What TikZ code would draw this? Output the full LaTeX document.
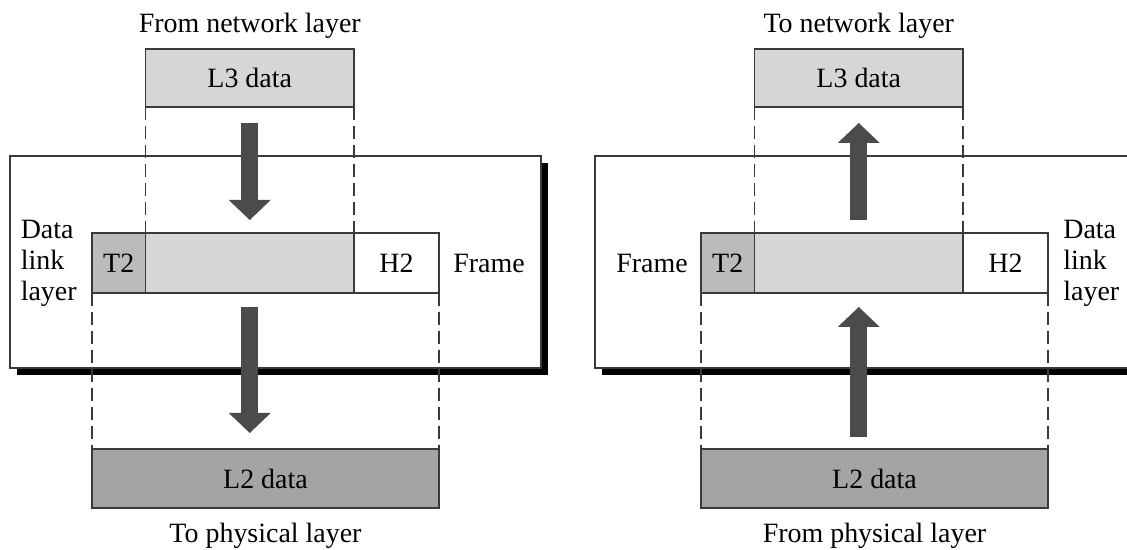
\documentclass[tikz,border=0pt]{standalone}
\usepackage{fontspec}
\setmainfont{Liberation Serif}
\usetikzlibrary{arrows.meta,positioning}

\definecolor{lightgr}{HTML}{D6D6D6}
\definecolor{midgr}{HTML}{BBBBBB}
\definecolor{darkgr}{HTML}{A4A4A4}
\definecolor{arrowgr}{HTML}{4B4B4B}
\definecolor{linegr}{HTML}{3A3A3A}

\begin{document}
\begin{tikzpicture}[
	every node/.style={font=\fontsize{15.9pt}{17.6pt}\selectfont, inner sep=0pt},
	cell/.style={draw=linegr, line width=1pt, minimum height=1.2cm, outer sep=0pt},
	layerbox/.style={draw=linegr, line width=0.8pt, fill=white},
	guide/.style={draw=linegr, line width=1pt, dash pattern=on 0.26cm off 0.12cm},
	bigarrow/.style={draw=arrowgr, line width=0.34cm, -{Triangle[width=0.84cm, length=0.4cm, line width=0pt]}}
]
	\useasboundingbox (0,0) rectangle (22.54,11);
	\clip (0,0) rectangle (22.54,11);

% lado emisor
	\fill (0.34,3.5) rectangle (10.96,7.74);
	\draw[layerbox] (0.2,3.64) rectangle (10.82,7.88);

	\node[cell, fill=midgr, minimum width=1.07cm, anchor=south west] (t2L) at (1.84,5.14) {T2};
	\node[cell, fill=lightgr, minimum width=4.17cm, right=0pt of t2L] (midL) {};
	\node[cell, fill=white, minimum width=1.7cm, right=0pt of midL] (h2L) {H2};

	\node[cell, fill=lightgr, minimum width=4.17cm, minimum height=1.16cm, above=2.52cm of midL] (l3L) {L3 data};
	\node[cell, fill=darkgr, minimum width=6.94cm, minimum height=1.18cm, anchor=north west] (l2L)
		at ([yshift=-3.12cm]t2L.south west) {L2 data};

	\node[above=0.2cm of l3L] (fromnet) {From network layer};
	\node[below=0.3cm of l2L] (tophy) {To physical layer};
	\node[align=left, left=0.3cm of t2L] (dllL) {Data\\link\\layer};
	\node[right=0.28cm of h2L] (frmL) {Frame};

	\draw[guide] (l3L.south west) -- (midL.north west);
	\draw[guide] (l3L.south east) -- (midL.north east);
	\draw[guide] (t2L.south west) -- (l2L.north west);
	\draw[guide] (h2L.south east) -- (l2L.north east);

	\draw[bigarrow] ([yshift=-0.32cm]l3L.south) -- ([yshift=0.26cm]midL.north);
	\draw[bigarrow] ([yshift=-0.28cm]midL.south) -- ([yshift=0.32cm]midL.south |- l2L.north);

% lado receptor
	\fill (12.04,3.5) rectangle (23.14,7.74);
	\draw[layerbox] (11.9,3.64) rectangle (23,7.88);

	\node[cell, fill=midgr, minimum width=1.07cm, anchor=south west] (t2R) at (14.02,5.14) {T2};
	\node[cell, fill=lightgr, minimum width=4.17cm, right=0pt of t2R] (midR) {};
	\node[cell, fill=white, minimum width=1.7cm, right=0pt of midR] (h2R) {H2};

	\node[cell, fill=lightgr, minimum width=4.17cm, minimum height=1.16cm, above=2.52cm of midR] (l3R) {L3 data};
	\node[cell, fill=darkgr, minimum width=6.94cm, minimum height=1.18cm, anchor=north west] (l2R)
		at ([yshift=-3.12cm]t2R.south west) {L2 data};

	\node[above=0.2cm of l3R] (tonet) {To network layer};
	\node[below=0.3cm of l2R] (fromphy) {From physical layer};
	\node[align=left, right=0.3cm of h2R] (dllR) {Data\\link\\layer};
	\node[left=0.26cm of t2R] (frmR) {Frame};

	\draw[guide] (l3R.south west) -- (midR.north west);
	\draw[guide] (l3R.south east) -- (midR.north east);
	\draw[guide] (t2R.south west) -- (l2R.north west);
	\draw[guide] (h2R.south east) -- (l2R.north east);

	\draw[bigarrow] ([yshift=0.26cm]midR.north) -- ([yshift=-0.32cm]l3R.south);
	\draw[bigarrow] ([yshift=0.24cm]midR.south |- l2R.north) -- ([yshift=-0.28cm]midR.south);
\end{tikzpicture}
\end{document}
